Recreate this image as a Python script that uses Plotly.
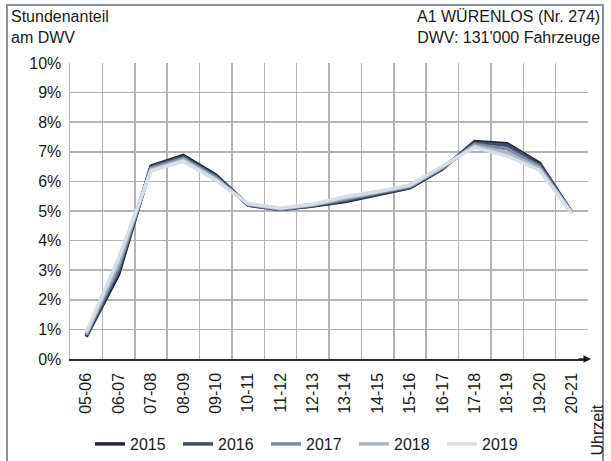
import plotly.graph_objects as go

categories = ["05-06", "06-07", "07-08", "08-09", "09-10", "10-11", "11-12", "12-13",
              "13-14", "14-15", "15-16", "16-17", "17-18", "18-19", "19-20", "20-21"]

y2015 = [0.75, 2.85, 6.52, 6.88, 6.22, 5.20, 5.05, 5.17, 5.32, 5.55, 5.78, 6.42, 7.35, 7.27, 6.62, 4.95]
y2016 = [0.78, 2.95, 6.48, 6.83, 6.18, 5.20, 5.05, 5.18, 5.35, 5.57, 5.80, 6.44, 7.30, 7.22, 6.56, 4.95]
y2017 = [0.82, 3.10, 6.45, 6.78, 6.13, 5.22, 5.07, 5.20, 5.40, 5.60, 5.83, 6.46, 7.25, 7.10, 6.50, 4.94]
y2018 = [0.86, 3.25, 6.40, 6.73, 6.08, 5.24, 5.08, 5.22, 5.44, 5.63, 5.85, 6.48, 7.20, 6.97, 6.44, 4.93]
y2019 = [0.90, 3.40, 6.35, 6.68, 6.04, 5.25, 5.10, 5.23, 5.48, 5.66, 5.88, 6.50, 7.15, 6.86, 6.38, 4.92]

series_names = ["2015", "2016", "2017", "2018", "2019"]
series_values = [y2015, y2016, y2017, y2018, y2019]
series_colors = ["#1e2836", "#3e5066", "#7b8ca2", "#aab6c6", "#d6dde7"]

y_ticks = [0, 1, 2, 3, 4, 5, 6, 7, 8, 9, 10]

FONT = "Liberation Sans, Arial, sans-serif"
TXT = "#1a1a1a"

fig = go.Figure()
for name, vals, col in zip(series_names, series_values, series_colors):
    fig.add_trace(go.Scatter(x=categories, y=vals, mode="lines", name=name,
                             line=dict(color=col, width=3.5)))

W, H = 611, 461
L, R, T, B = 70, 23, 63, 102
pw, ph = W - L - R, H - T - B

def px(xp):
    return (xp - L) / pw

def py(yp):
    return (H - B - yp) / ph

fig.update_layout(
    width=W, height=H,
    margin=dict(l=L, r=R, t=T, b=B, autoexpand=False),
    paper_bgcolor="white", plot_bgcolor="white",
    font=dict(family=FONT, size=16, color=TXT),
    showlegend=True,
    legend=dict(orientation="h", x=px(310), xanchor="center", y=py(427), yanchor="top",
                font=dict(size=16, color=TXT), itemwidth=30, tracegroupgap=0,
                entrywidth=43, entrywidthmode="pixels",
                bgcolor="rgba(0,0,0,0)"),
    xaxis=dict(type="category", tickson="boundaries", showgrid=True,
               range=[-0.5, len(categories) - 0.5],
               gridcolor="#b4b4b4", gridwidth=1.5, tickangle=-90,
               ticks="", showline=True, linecolor="#2a2a2a", linewidth=1.5,
               ticklabelstandoff=6,
               tickfont=dict(size=16, color=TXT), fixedrange=True),
    yaxis=dict(range=[0, 10], tickvals=y_ticks, ticktext=[f"{v}%" for v in y_ticks],
               showgrid=True, gridcolor="#b4b4b4", gridwidth=1.5, zeroline=False,
               showline=True, linecolor="#b4b4b4", linewidth=1.5, ticks="",
               ticklabelstandoff=4,
               tickfont=dict(size=16, color=TXT), fixedrange=True),
)

# outer frame
fig.add_shape(type="rect", xref="paper", yref="paper",
              x0=px(7), x1=px(603), y0=py(470), y1=py(5),
              line=dict(color="#8391a3", width=2), fillcolor="rgba(0,0,0,0)", layer="above")

# axis arrow
fig.add_annotation(xref="paper", yref="paper", x=px(591), y=0, ax=-14, ay=0,
                   axref="pixel", ayref="pixel", showarrow=True, arrowhead=2,
                   arrowsize=1, arrowwidth=1.5, arrowcolor="#1a1a1a", text="")

fig.add_annotation(xref="paper", yref="paper", x=px(9), y=py(6), xanchor="left", yanchor="top",
                   text="Stundenanteil<br>am DWV", showarrow=False, align="left",
                   font=dict(size=16, color=TXT, family=FONT))
fig.add_annotation(xref="paper", yref="paper", x=px(602), y=py(6), xanchor="right", yanchor="top",
                   text="A1 WÜRENLOS (Nr. 274)<br>DWV: 131'000 Fahrzeuge", showarrow=False,
                   align="right", font=dict(size=16, color=TXT, family=FONT))
fig.add_annotation(xref="paper", yref="paper", x=px(597), y=py(458), xanchor="center", yanchor="bottom",
                   text="Uhrzeit", textangle=-90, showarrow=False,
                   font=dict(size=16, color=TXT, family=FONT))

fig.write_html("out.html", config={"displayModeBar": False, "staticPlot": True},
               post_script="document.body.style.margin='0';document.body.style.overflow='hidden';")
